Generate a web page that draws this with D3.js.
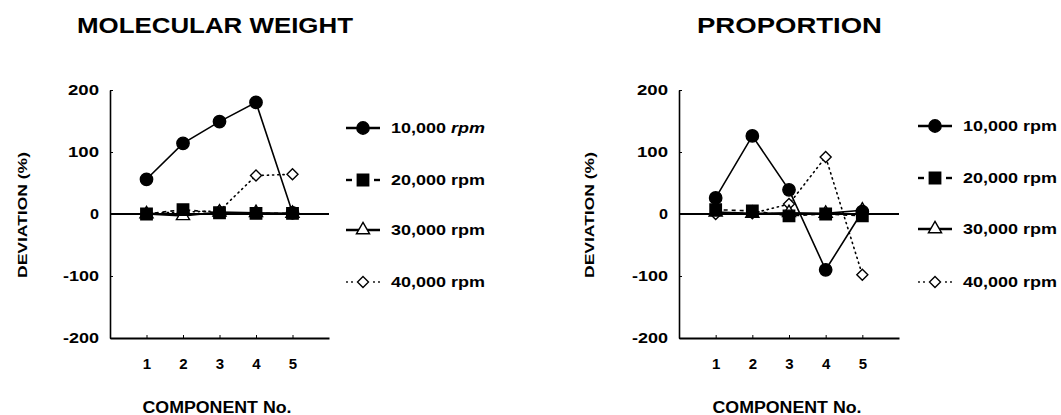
<!DOCTYPE html>
<html>
<head>
<meta charset="utf-8">
<script src="https://cdn.jsdelivr.net/npm/d3@7"></script>
<style>
  html, body { margin: 0; padding: 0; background: #fff; }
  svg { display: block; }
  text { font-family: "Liberation Sans", Arial, Helvetica, sans-serif; font-weight: bold; fill: #000; }
</style>
</head>
<body>
<svg id="chart" width="1061" height="415"></svg>
<script>
// ---- data ----
const components = [1, 2, 3, 4, 5];
const yTicks = [-200, -100, 0, 100, 200];
const seriesNames = ["10,000", "20,000", "30,000", "40,000"];

// Molecular weight deviation (%)
const mw10k = [56, 114, 149, 180, 2];
const mw20k = [0, 7, 2, 1, 1];
const mw30k = [0, -3, 3, 2, 1];
const mw40k = [1, 3, 5, 62, 64];

// Proportion deviation (%)
const pr10k = [26, 126, 39, -90, 4];
const pr20k = [7, 5, -3, 0, -3];
const pr30k = [3, 1, 2, 1, 6];
const pr40k = [0, 1, 16, 92, -98];

const svg = d3.select("#chart");

const styles = [
  { marker: "circle", fill: "#000", dash: null, width: 1.6 },
  { marker: "square", fill: "#000", dash: "4,4", width: 1.6 },
  { marker: "triangle", fill: "#fff", dash: null, width: 1.6 },
  { marker: "diamond", fill: "#fff", dash: "1.2,4", width: 1.6 }
];

function symbolPath(type) {
  if (type === "diamond") return "M0,-5.5L5.5,0L0,5.5L-5.5,0Z";
  const map = {
    circle: d3.symbol(d3.symbolCircle, 120),
    square: d3.symbol(d3.symbolSquare, 130),
    triangle: d3.symbol(d3.symbolTriangle, 75)
  };
  return map[type]();
}

function drawPanel(cfg) {
  const g = svg.append("g");
  const x = d3.scaleLinear().domain([0, 6]).range(cfg.xRange);
  const y = d3.scaleLinear().domain([-200, 200]).range([338, 90]);

  // title
  g.append("text")
    .attr("x", cfg.titleX).attr("y", 33)
    .attr("font-size", 22)
    .attr("textLength", cfg.titleLen).attr("lengthAdjust", "spacingAndGlyphs")
    .text(cfg.title);

  // y axis
  const yAxis = d3.axisLeft(y).tickValues(yTicks).tickSizeInner(-3).tickSizeOuter(0).tickPadding(11)
    .tickFormat(d => String(d));
  const ya = g.append("g").attr("transform", `translate(${cfg.xRange[0]},0)`).call(yAxis);
  ya.select(".domain").attr("stroke-width", 1.6);
  ya.selectAll(".tick line").attr("stroke-width", 1);
  ya.selectAll("text")
    .attr("font-size", 14)
    .attr("font-family", "Liberation Sans, Arial, sans-serif")
    .attr("font-weight", "bold")
    .attr("textLength", d => d < 0 ? 36 : (d === 0 ? 9 : 31))
    .attr("lengthAdjust", "spacingAndGlyphs");

  // x axis
  const xAxis = d3.axisBottom(x).tickValues(components).tickSizeInner(-3).tickSizeOuter(0).tickPadding(20)
    .tickFormat(d => String(d));
  const xa = g.append("g").attr("transform", `translate(0,${y(-200)})`).call(xAxis);
  xa.select(".domain").attr("stroke-width", 1.8);
  xa.selectAll(".tick line").attr("stroke-width", 1);
  xa.selectAll("text")
    .attr("font-size", 15)
    .attr("font-family", "Liberation Sans, Arial, sans-serif")
    .attr("font-weight", "bold");

  // x axis label
  g.append("text")
    .attr("x", cfg.xLabelX).attr("y", 413)
    .attr("font-size", 16)
    .attr("text-anchor", "middle")
    .attr("textLength", 149).attr("lengthAdjust", "spacingAndGlyphs")
    .text("COMPONENT No.");

  // y axis label
  g.append("text")
    .attr("transform", `translate(${cfg.yLabelX},215) rotate(-90)`)
    .attr("font-size", 13)
    .attr("text-anchor", "middle")
    .attr("textLength", 126).attr("lengthAdjust", "spacingAndGlyphs")
    .text("DEVIATION (%)");

  // zero line
  g.append("line")
    .attr("x1", x(0)).attr("x2", x(6))
    .attr("y1", y(0)).attr("y2", y(0))
    .attr("stroke", "#000").attr("stroke-width", 2.2);

  const line = d3.line().x((d, i) => x(components[i])).y(d => y(d));

  const order = [3, 2, 1, 0];
  order.forEach(si => {
    const st = styles[si];
    g.append("path")
      .datum(cfg.series[si])
      .attr("d", line)
      .attr("fill", "none")
      .attr("stroke", "#000")
      .attr("stroke-width", st.width)
      .attr("stroke-dasharray", st.dash)
      .attr("stroke-linecap", si === 3 ? "round" : "butt");
  });
  order.forEach(si => {
    const st = styles[si];
    g.selectAll(null)
      .data(cfg.series[si])
      .join("path")
      .attr("transform", (d, i) => `translate(${x(components[i])},${y(d)})`)
      .attr("d", symbolPath(st.marker))
      .attr("fill", st.fill)
      .attr("stroke", "#000")
      .attr("stroke-width", 1.4);
  });

  // legend
  seriesNames.forEach((name, si) => {
    const st = styles[si];
    const ly = cfg.legendY[si];
    const lg = g.append("g").attr("transform", `translate(${cfg.legendX},${ly})`);
    if (si === 1) {
      lg.append("line").attr("x1", 0).attr("x2", 6).attr("y1", 0).attr("y2", 0).attr("stroke", "#000").attr("stroke-width", 2.4);
      lg.append("line").attr("x1", 28).attr("x2", 34).attr("y1", 0).attr("y2", 0).attr("stroke", "#000").attr("stroke-width", 2.4);
    } else if (si === 3) {
      [1, 6, 28, 33].forEach(px => lg.append("circle").attr("cx", px).attr("cy", 0).attr("r", 0.9).attr("fill", "#000"));
    } else {
      lg.append("line").attr("x1", 0).attr("x2", 34).attr("y1", 0).attr("y2", 0).attr("stroke", "#000").attr("stroke-width", 2.4);
    }
    lg.append("path").attr("transform", "translate(17,0)")
      .attr("d", symbolPath(st.marker))
      .attr("fill", st.fill).attr("stroke", "#000").attr("stroke-width", 1.4);
    const t = lg.append("text")
      .attr("x", 45).attr("y", 5)
      .attr("font-size", 14)
      .attr("textLength", 94).attr("lengthAdjust", "spacingAndGlyphs");
    t.append("tspan").text(name + " ");
    t.append("tspan").attr("font-style", (cfg.italicFirst && si === 0) ? "italic" : "normal").text("rpm");
  });
}

drawPanel({
  title: "MOLECULAR WEIGHT", titleX: 77, titleLen: 276,
  xRange: [110, 329], xLabelX: 217, yLabelX: 27,
  legendX: 346, legendY: [128, 180, 230, 282], italicFirst: true,
  series: [mw10k, mw20k, mw30k, mw40k]
});

drawPanel({
  title: "PROPORTION", titleX: 697, titleLen: 185,
  xRange: [679, 899], xLabelX: 787, yLabelX: 594,
  legendX: 918, legendY: [126, 178, 229, 282], italicFirst: false,
  series: [pr10k, pr20k, pr30k, pr40k]
});
</script>
</body>
</html>
